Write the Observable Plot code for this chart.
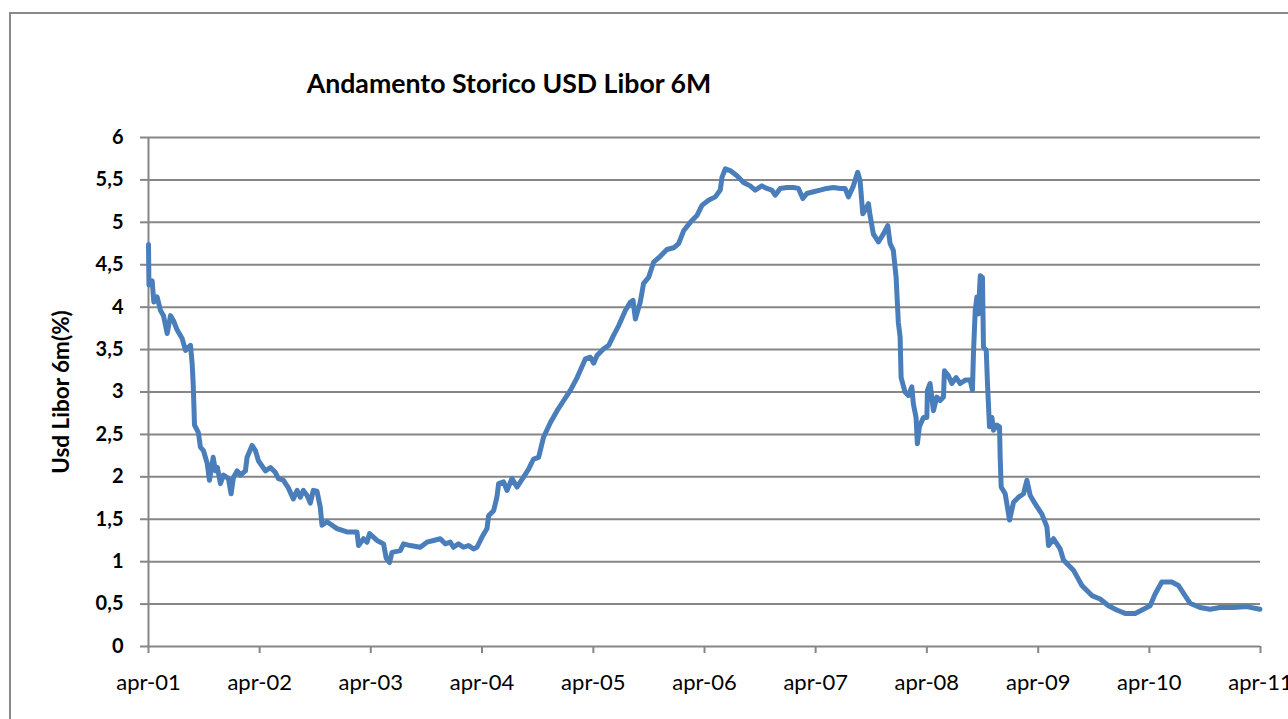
<!DOCTYPE html>
<html>
<head>
<meta charset="utf-8">
<script src="https://cdn.jsdelivr.net/npm/d3@7"></script>
<script src="https://cdn.jsdelivr.net/npm/@observablehq/plot@0.6"></script>
<style>
  html, body { margin: 0; padding: 0; background: #ffffff; }
  #wrap { position: relative; width: 1288px; height: 719px; overflow: hidden; font-family: Lato, "Open Sans", sans-serif; }
  #frame { position: absolute; left: 9px; top: 12px; width: 1300px; height: 740px; border: 2px solid #8a8a8a; box-sizing: border-box; }
  #title { position: absolute; left: 0; width: 1018px; top: 70px; text-align: center; font-weight: bold; font-size: 26.7px; line-height: 1; color: #000; }
  #chart { position: absolute; left: 0; top: 0; }
</style>
</head>
<body>
<div id="wrap">
  <div id="frame"></div>
  <div id="title">Andamento Storico USD Libor 6M</div>
  <div id="chart"></div>
</div>
<script>
// ---- data ----
const titleText = "Andamento Storico USD Libor 6M";
const yLabel = "Usd Libor 6m(%)";
const tickYears = [2001, 2002, 2003, 2004, 2005, 2006, 2007, 2008, 2009, 2010, 2011];
const tickLabels = ["apr-01", "apr-02", "apr-03", "apr-04", "apr-05", "apr-06", "apr-07", "apr-08", "apr-09", "apr-10", "apr-11"];
const yTicks = [0, 0.5, 1, 1.5, 2, 2.5, 3, 3.5, 4, 4.5, 5, 5.5, 6];

// decimal years
const years = [
  2001.250, 2001.254, 2001.283, 2001.298, 2001.328, 2001.358, 2001.385, 2001.418, 2001.448, 2001.475,
  2001.508, 2001.553, 2001.583, 2001.628, 2001.643, 2001.652, 2001.664, 2001.699, 2001.717, 2001.744,
  2001.778, 2001.798, 2001.832, 2001.852, 2001.870, 2001.897, 2001.924, 2001.969, 2001.993, 2002.014,
  2002.047, 2002.077, 2002.122, 2002.137, 2002.182, 2002.212, 2002.239, 2002.302, 2002.347, 2002.392,
  2002.419, 2002.463, 2002.508, 2002.553, 2002.587, 2002.616, 2002.643, 2002.677, 2002.706, 2002.733,
  2002.766, 2002.796, 2002.811, 2002.856, 2002.946, 2003.036, 2003.126, 2003.140, 2003.185, 2003.216,
  2003.239, 2003.306, 2003.365, 2003.389, 2003.419, 2003.441, 2003.515, 2003.545, 2003.605, 2003.695,
  2003.755, 2003.815, 2003.875, 2003.920, 2003.965, 2003.994, 2004.039, 2004.084, 2004.129, 2004.174,
  2004.205, 2004.250, 2004.295, 2004.309, 2004.354, 2004.384, 2004.399, 2004.444, 2004.474, 2004.519,
  2004.564, 2004.624, 2004.668, 2004.713, 2004.758, 2004.803, 2004.864, 2004.924, 2004.983, 2005.043,
  2005.104, 2005.178, 2005.223, 2005.253, 2005.283, 2005.343, 2005.388, 2005.433, 2005.477, 2005.538,
  2005.583, 2005.607, 2005.628, 2005.672, 2005.702, 2005.747, 2005.792, 2005.852, 2005.912, 2005.972,
  2006.017, 2006.062, 2006.122, 2006.182, 2006.227, 2006.286, 2006.347, 2006.392, 2006.407, 2006.437,
  2006.481, 2006.542, 2006.601, 2006.661, 2006.706, 2006.766, 2006.811, 2006.856, 2006.886, 2006.931,
  2006.991, 2007.050, 2007.095, 2007.135, 2007.171, 2007.230, 2007.290, 2007.351, 2007.410, 2007.470,
  2007.515, 2007.545, 2007.590, 2007.628, 2007.650, 2007.674, 2007.695, 2007.725, 2007.740, 2007.770,
  2007.815, 2007.859, 2007.899, 2007.920, 2007.949, 2007.974, 2007.994, 2008.010, 2008.019, 2008.054,
  2008.084, 2008.115, 2008.129, 2008.153, 2008.165, 2008.183, 2008.219, 2008.250, 2008.255, 2008.279,
  2008.309, 2008.339, 2008.369, 2008.399, 2008.408, 2008.444, 2008.474, 2008.513, 2008.549, 2008.594,
  2008.639, 2008.659, 2008.668, 2008.684, 2008.699, 2008.713, 2008.729, 2008.749, 2008.758, 2008.783,
  2008.794, 2008.812, 2008.834, 2008.848, 2008.879, 2008.902, 2008.908, 2008.917, 2008.953, 2008.992,
  2009.028, 2009.073, 2009.118, 2009.148, 2009.178, 2009.223, 2009.283, 2009.328, 2009.343, 2009.388,
  2009.448, 2009.477, 2009.567, 2009.643, 2009.733, 2009.807, 2009.882, 2009.957, 2010.032, 2010.122,
  2010.197, 2010.257, 2010.302, 2010.362, 2010.452, 2010.511, 2010.571, 2010.616, 2010.706, 2010.796,
  2010.886, 2011.006, 2011.126, 2011.245
];
// USD Libor 6M, %
const rates = [
  4.74, 4.26, 4.31, 4.06, 4.12, 3.96, 3.90, 3.69, 3.90, 3.84,
  3.73, 3.63, 3.49, 3.55, 3.33, 3.10, 2.61, 2.52, 2.35, 2.31,
  2.16, 1.96, 2.23, 2.07, 2.11, 1.92, 2.02, 1.98, 1.80, 1.99,
  2.07, 2.02, 2.07, 2.23, 2.37, 2.31, 2.19, 2.07, 2.11, 2.05,
  1.98, 1.96, 1.87, 1.74, 1.84, 1.76, 1.84, 1.78, 1.69, 1.84,
  1.83, 1.64, 1.43, 1.47, 1.39, 1.35, 1.35, 1.19, 1.27, 1.23,
  1.33, 1.25, 1.21, 1.04, 0.99, 1.11, 1.13, 1.21, 1.19, 1.17,
  1.23, 1.25, 1.27, 1.21, 1.23, 1.17, 1.21, 1.17, 1.19, 1.15,
  1.17, 1.29, 1.39, 1.54, 1.60, 1.76, 1.92, 1.94, 1.84, 1.98,
  1.88, 2.00, 2.09, 2.21, 2.23, 2.47, 2.64, 2.78, 2.90, 3.02,
  3.17, 3.39, 3.41, 3.34, 3.43, 3.51, 3.55, 3.67, 3.78, 3.96,
  4.06, 4.08, 3.86, 4.06, 4.28, 4.35, 4.53, 4.60, 4.68, 4.70,
  4.75, 4.90, 5.00, 5.08, 5.20, 5.26, 5.30, 5.38, 5.53, 5.63,
  5.61, 5.55, 5.47, 5.43, 5.38, 5.43, 5.40, 5.38, 5.32, 5.40,
  5.41, 5.41, 5.40, 5.28, 5.34, 5.36, 5.38, 5.40, 5.41, 5.40,
  5.40, 5.30, 5.43, 5.59, 5.49, 5.10, 5.14, 5.22, 5.08, 4.86,
  4.77, 4.86, 4.96, 4.75, 4.67, 4.35, 3.82, 3.65, 3.17, 3.00,
  2.96, 3.06, 2.86, 2.70, 2.39, 2.59, 2.70, 2.70, 3.02, 3.10,
  2.78, 2.94, 2.90, 2.94, 3.25, 3.19, 3.10, 3.17, 3.10, 3.14,
  3.14, 3.02, 3.45, 3.96, 4.12, 3.92, 4.37, 4.35, 3.53, 3.49,
  3.10, 2.59, 2.70, 2.55, 2.61, 2.59, 2.23, 1.88, 1.80, 1.49,
  1.70, 1.76, 1.80, 1.96, 1.78, 1.68, 1.56, 1.41, 1.19, 1.27,
  1.15, 1.02, 0.90, 0.72, 0.60, 0.56, 0.48, 0.43, 0.39, 0.39,
  0.44, 0.48, 0.62, 0.76, 0.76, 0.72, 0.60, 0.51, 0.46, 0.44,
  0.46, 0.46, 0.47, 0.44
];

// ---- build ----
function decToDate(d) {
  const y = Math.floor(d);
  const s = Date.UTC(y, 0, 1), e = Date.UTC(y + 1, 0, 1);
  return new Date(s + (d - y) * (e - s));
}
const data = years.map((t, i) => ({date: decToDate(t), rate: rates[i]}));
const tickDates = tickYears.map(y => decToDate(y + 0.25));
const xDomain = [tickDates[0], tickDates[tickDates.length - 1]];
const labelOf = new Map(tickDates.map((d, i) => [+d, tickLabels[i]]));
const grid = "#868686";

const chart = Plot.plot({
  width: 1288,
  height: 719,
  marginLeft: 148,
  marginRight: 28,
  marginTop: 137,
  marginBottom: 73,
  style: {fontFamily: "Lato, 'Open Sans', sans-serif", background: "transparent", color: "#000", overflow: "visible"},
  x: {type: "utc", domain: xDomain},
  y: {domain: [0, 6]},
  marks: [
    Plot.ruleY(yTicks.filter(v => v > 0), {stroke: grid, strokeWidth: 2}),
    Plot.ruleX([xDomain[0]], {stroke: grid, strokeWidth: 2}),
    Plot.ruleY([0], {stroke: grid, strokeWidth: 2}),
    Plot.axisY({
      ticks: yTicks, tickSize: 8, tickPadding: 17, stroke: grid, strokeWidth: 2,
      tickFormat: d => String(d).replace(".", ","),
      fontSize: 20, fontWeight: "bold", label: null
    }),
    Plot.axisX({
      ticks: tickDates, tickSize: 7, tickPadding: 21, stroke: grid, strokeWidth: 2,
      tickFormat: d => labelOf.get(+d),
      fontSize: 22, label: null
    }),
    Plot.text([yLabel], {
      frameAnchor: "left", textAnchor: "middle", dx: -87, rotate: -90,
      fontSize: 22.5, fontWeight: "bold", fill: "#000"
    }),
    Plot.line(data, {
      x: "date", y: "rate", stroke: "#4a7ebb", strokeWidth: 5,
      strokeLinejoin: "round", strokeLinecap: "round"
    })
  ]
});
document.getElementById("chart").appendChild(chart);
document.getElementById("title").textContent = titleText;
</script>
</body>
</html>
